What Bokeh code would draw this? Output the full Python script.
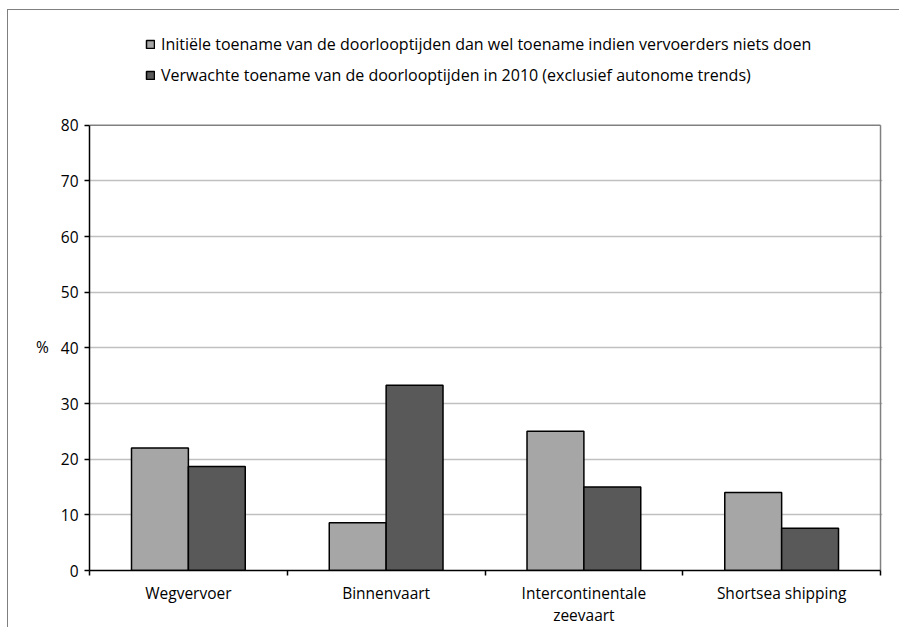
from bokeh.plotting import figure
from bokeh.models import FixedTicker, Legend, LegendItem, ColumnDataSource, Range1d
from bokeh.embed import file_html
from bokeh.resources import INLINE

# Transport modes (x categories)
categories = ["Wegvervoer", "Binnenvaart", "Intercontinentale\nzeevaart", "Shortsea shipping"]

# Increase of lead times, in %
initieel = [22.0, 8.6, 25.0, 14.0]
verwacht = [18.7, 33.3, 15.0, 7.6]

series_labels = [
    "Initiële toename van de doorlooptijden dan wel toename indien vervoerders niets doen",
    "Verwachte toename van de doorlooptijden in 2010 (exclusief autonome trends)",
]
y_ticks = [0, 10, 20, 30, 40, 50, 60, 70, 80]

FONT = "Open Sans"
FS = "15.5px"
BAR_W = 0.2876
n = len(categories)
y_top = y_ticks[-1]
centers = [i + 0.5 for i in range(n)]

src = ColumnDataSource(dict(
    x_init=[c - BAR_W / 2 for c in centers],
    x_verw=[c + BAR_W / 2 for c in centers],
    initieel=initieel,
    verwacht=verwacht,
))

# The frame reaches up to the top of the canvas so the legend sits inside it;
# the value axis itself stops at 80.
FRAME_H = 561
AXIS_H = 446
p = figure(
    width=892, height=618,
    x_range=Range1d(0, n + 0.01), y_range=Range1d(0, y_top * FRAME_H / AXIS_H),
    output_backend="svg", toolbar_location=None,
    min_border_left=81, min_border_top=0, min_border_right=18, min_border_bottom=57,
)
p.styles = {
    "position": "absolute", "left": "7px", "top": "9px",
    "border-left": "1px solid #7f7f7f", "border-top": "1px solid #7f7f7f",
}
p.background_fill_color = "white"
p.border_fill_color = "white"
p.outline_line_color = None

p.xgrid.visible = False
p.ygrid.ticker = FixedTicker(ticks=y_ticks[:-1])
p.ygrid.grid_line_color = "#c0c0c0"
p.ygrid.grid_line_width = 1.5

# plot-area border: top and right edge
p.segment(x0=[0, n], y0=[y_top, 0], x1=[n, n], y1=[y_top, y_top],
          line_color="#808080", line_width=1.5)

r1 = p.vbar(x="x_init", top="initieel", width=BAR_W, source=src,
            fill_color="#a6a6a6", line_color="black", line_width=1.5)
r2 = p.vbar(x="x_verw", top="verwacht", width=BAR_W, source=src,
            fill_color="#595959", line_color="black", line_width=1.5)

# y axis
p.yaxis.bounds = (0, y_top)
p.yaxis.ticker = FixedTicker(ticks=y_ticks)
p.yaxis.axis_line_color = "black"
p.yaxis.axis_line_width = 1.5
p.yaxis.major_tick_in = 0
p.yaxis.major_tick_out = 5
p.yaxis.major_tick_line_color = "black"
p.yaxis.major_tick_line_width = 1.5
p.yaxis.minor_tick_line_color = None
p.yaxis.major_label_standoff = 6
p.yaxis.major_label_text_font = FONT
p.yaxis.major_label_text_font_size = FS
p.yaxis.major_label_text_color = "black"
# the label is centred on the whole frame height; leading blank lines
# bring the "%" down to the middle of the 0-80 scale
p.yaxis.axis_label = "\n" * 4 + "%"
p.yaxis.axis_label_text_line_height = 1.29
p.yaxis.axis_label_orientation = "horizontal"
p.yaxis.axis_label_standoff = 9
p.yaxis.axis_label_text_font = FONT
p.yaxis.axis_label_text_font_size = FS
p.yaxis.axis_label_text_font_style = "normal"
p.yaxis.axis_label_text_color = "black"

# x axis: labels at category centres, tick marks at the boundaries
p.xaxis.bounds = (0, n)
p.xaxis.ticker = FixedTicker(ticks=centers, minor_ticks=list(range(n + 1)))
p.xaxis.major_label_overrides = {c: name for c, name in zip(centers, categories)}
p.xaxis.axis_line_color = "black"
p.xaxis.axis_line_width = 1.5
p.xaxis.major_tick_in = 0
p.xaxis.major_tick_out = 0
p.xaxis.minor_tick_in = 0
p.xaxis.minor_tick_out = 5
p.xaxis.minor_tick_line_color = "black"
p.xaxis.minor_tick_line_width = 1.5
p.xaxis.major_label_standoff = 6
p.xaxis.major_label_text_font = FONT
p.xaxis.major_label_text_font_size = FS
p.xaxis.major_label_text_line_height = 1.0
p.xaxis.major_label_text_color = "black"

legend = Legend(
    items=[LegendItem(label=series_labels[0], renderers=[r1]),
           LegendItem(label=series_labels[1], renderers=[r2])],
    location=(56, 484), orientation="vertical",
    glyph_width=10, glyph_height=10, label_standoff=6, spacing=9,
    padding=0, margin=0, label_height=20,
    border_line_color=None, background_fill_alpha=0,
    label_text_font=FONT, label_text_font_size="16px", label_text_color="black",
)
p.add_layout(legend)

open("out.html", "w").write(file_html(p, INLINE))
